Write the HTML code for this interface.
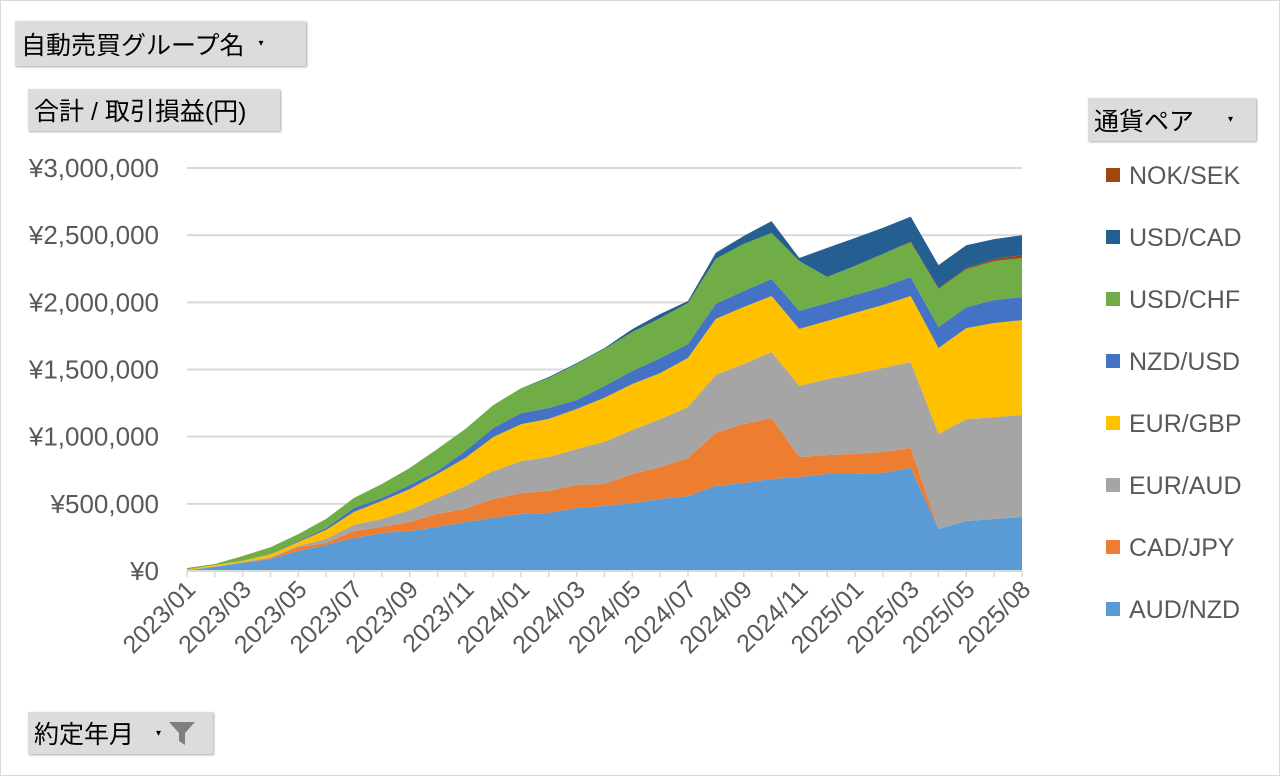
<!DOCTYPE html>
<html><head><meta charset="utf-8">
<style>
body{margin:0;background:#fff;font-family:"Liberation Sans","Noto Sans CJK JP",sans-serif;}
#wrap{position:relative;width:1278px;height:774px;border:1px solid #d9d9d9;overflow:hidden;}
.btn{position:absolute;background:#dcdcdc;color:#000;font-size:25px;box-sizing:border-box;padding-left:6px;display:flex;align-items:center;box-shadow:1px 1px 2px #aaa;white-space:nowrap;}
.dd{font-size:10px;margin-left:14px;}
</style></head><body>
<div id="wrap">
<div class="btn" style="left:14px;top:20px;width:291px;height:45px;">自動売買グループ名<span class="dd">▾</span></div>
<div class="btn" style="left:27px;top:88px;width:252px;height:42px;">合計 / 取引損益(円)</div>
<div class="btn" style="left:1087px;top:97px;width:168px;height:43px;">通貨ペア<span class="dd" style="margin-left:34px">▾</span></div>
<div class="btn" style="left:27px;top:711px;width:185px;height:42px;">約定年月<span class="dd" style="margin-left:22px">▾</span><svg width="30" height="28" style="margin-left:6px" viewBox="0 0 30 28"><path d="M2 3 H28 L18 14 V26 L12 22 V14 Z" fill="#7f7f7f"/></svg></div>
<svg id="chart" width="1280" height="776" style="position:absolute;left:0;top:0;pointer-events:none"></svg>
</div>
<script>
const categories=["2023/01","2023/02","2023/03","2023/04","2023/05","2023/06","2023/07","2023/08","2023/09","2023/10","2023/11","2023/12","2024/01","2024/02","2024/03","2024/04","2024/05","2024/06","2024/07","2024/08","2024/09","2024/10","2024/11","2024/12","2025/01","2025/02","2025/03","2025/04","2025/05","2025/07","2025/08"];
const seriesNames=["AUD/NZD","CAD/JPY","EUR/AUD","EUR/GBP","NZD/USD","USD/CHF","NOK/SEK","USD/CAD"];
const seriesColors=["#5b9bd5","#ed7d31","#a5a5a5","#ffc000","#4472c4","#70ad47","#9e480e","#255e91"];
// values in thousand yen
const audNzd=[7,30,60,89,149,194,246,283,298,328,365,395,424,432,469,484,506,536,558,633,655,685,700,722,722,730,767,313,372,387,402];
const cadJpy=[0,0,4,7,30,15,52,45,67,97,97,141,156,164,171,164,216,238,283,395,439,454,149,141,149,156,149,0,0,0,0];
const eurAud=[0,4,4,7,7,30,45,60,89,119,171,208,238,253,268,313,328,357,380,432,447,491,529,566,596,625,640,707,759,759,759];
const eurGbp=[4,11,7,22,30,67,97,134,156,179,208,253,275,283,298,328,342,342,365,417,424,417,424,432,454,469,491,640,677,700,707];
const nzdUsd=[0,0,0,4,7,15,30,22,30,22,52,67,82,82,67,89,97,112,104,112,119,127,134,134,134,134,141,156,156,171,171];
const usdChf=[11,7,37,48,52,67,74,104,127,164,164,171,186,223,268,275,290,298,305,335,350,342,372,194,216,246,260,283,283,290,290];
const nokSek=[0,0,0,0,0,0,0,0,0,0,0,0,0,0,0,0,0,0,0,0,0,0,0,0,0,0,4,7,7,15,22];
const usdCad=[0,0,0,0,0,0,0,0,0,0,0,0,0,7,7,7,22,30,15,45,60,89,22,216,208,194,186,171,171,149,149];
const yTicks=[0,500000,1000000,1500000,2000000,2500000,3000000];
const legendOrder=[6,7,5,4,3,2,1,0];
const legendLabels=["NOK/SEK","USD/CAD","USD/CHF","NZD/USD","EUR/GBP","EUR/AUD","CAD/JPY","AUD/NZD"];

const series=[audNzd,cadJpy,eurAud,eurGbp,nzdUsd,usdChf,nokSek,usdCad];
const NS="http://www.w3.org/2000/svg";
const svg=document.getElementById('chart');
const X0=186,X1=1021,Y0=570,Y1=167,YMAX=3000000;
const xs=i=>X0+(X1-X0)*i/(categories.length-1);
const ys=v=>Y0-(Y0-Y1)*v/YMAX;
function mk(t,a){const e=document.createElementNS(NS,t);for(const k in a)e.setAttribute(k,a[k]);svg.appendChild(e);return e;}
yTicks.forEach((t,i)=>{
  const g=mk('line',{x1:X0,x2:X1,y1:ys(t),y2:ys(t),stroke:'#d9d9d9','stroke-width':2});
  
  
  const tx=mk('text',{x:158,y:ys(t)+9,'text-anchor':'end','font-size':26,fill:'#595959','font-family':'Liberation Sans, sans-serif'});
  tx.textContent='¥'+t.toLocaleString('en-US');
  
  
});
let base=categories.map(()=>0);
series.forEach((s,si)=>{
  const top=base.map((b,i)=>b+s[i]*1000);
  let d='';
  top.forEach((v,i)=>{d+=(i?'L':'M')+xs(i).toFixed(1)+' '+ys(v).toFixed(1);});
  for(let i=base.length-1;i>=0;i--)d+='L'+xs(i).toFixed(1)+' '+ys(base[i]).toFixed(1);
  const p=mk('path',{d:d+'Z',fill:seriesColors[si]});
  
  
  base=top;
});
const ax=mk('line',{x1:X0,x2:X1,y1:Y0,y2:Y0,stroke:'#d9d9d9','stroke-width':2});


categories.forEach((c,i)=>{
  const tk=mk('line',{x1:xs(i),x2:xs(i),y1:Y0,y2:Y0+6,stroke:'#d9d9d9','stroke-width':1.5});
  
  
  if(i%2===0){
    const t=mk('text',{x:xs(i)+10,y:Y0+20,'text-anchor':'end','font-size':25,fill:'#595959','font-family':'Liberation Sans, sans-serif',transform:`rotate(-45 ${xs(i)+10} ${Y0+20})`});
    t.textContent=c;
    
    
  }
});
legendOrder.forEach((si,k)=>{
  const y=174+62*k;
  const r=mk('rect',{x:1105,y:y-7,width:14,height:14,fill:seriesColors[si]});
  
  
  const t=mk('text',{x:1128,y:y+9,'font-size':25,fill:'#595959','font-family':'Liberation Sans, sans-serif'});
  t.textContent=legendLabels[k];
  
  
});
</script>
</body></html>
